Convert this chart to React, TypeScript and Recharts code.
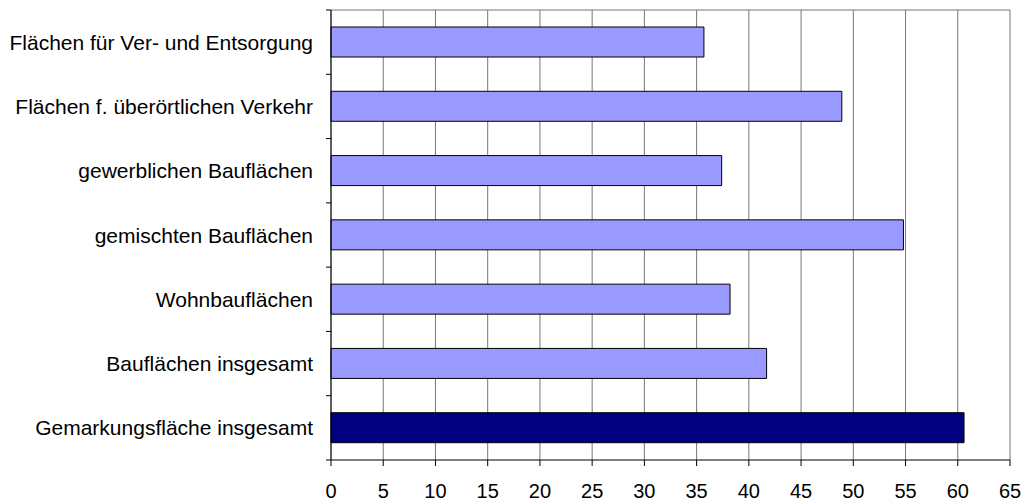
import React from "react";
import { BarChart, Bar, XAxis, YAxis, CartesianGrid, Cell } from "recharts";

const categories = [
  "Flächen für Ver- und Entsorgung",
  "Flächen f. überörtlichen Verkehr",
  "gewerblichen Bauflächen",
  "gemischten Bauflächen",
  "Wohnbauflächen",
  "Bauflächen insgesamt",
  "Gemarkungsfläche insgesamt",
];
const values = [35.7, 48.9, 37.4, 54.8, 38.2, 41.7, 60.6];
const barColors = ["#9999FF", "#9999FF", "#9999FF", "#9999FF", "#9999FF", "#9999FF", "#000080"];
const xTicks = [0, 5, 10, 15, 20, 25, 30, 35, 40, 45, 50, 55, 60, 65];

const data = categories.map((name, i) => ({ name, value: values[i] }));

const fam = "'Liberation Sans', Arial, sans-serif";
const xFont = { fontFamily: fam, fontSize: 20, fill: "#000" };
const Y_TICK_SIZE = 5;
const Y_TICK_MARGIN = 13;

const CategoryTick = (props: any) => {
  const { x, y, payload, index, visibleTicksCount } = props;
  const half = payload && payload.offset ? payload.offset : 0;
  const lx1 = x + Y_TICK_MARGIN;
  const lx2 = x + Y_TICK_MARGIN + Y_TICK_SIZE;
  const isLast = index === (visibleTicksCount ?? categories.length) - 1;
  return (
    <g>
      <line x1={lx1} x2={lx2} y1={y - half} y2={y - half} stroke="#000" />
      {isLast && <line x1={lx1} x2={lx2} y1={y + half} y2={y + half} stroke="#000" />}
      <text x={x} y={y} textAnchor="end" dominantBaseline="central" fontFamily={fam} fontSize={21} fill="#000">
        {payload.value}
      </text>
    </g>
  );
};

export default function App() {
  return (
    <div style={{ position: "absolute", left: 0, top: 0, fontFamily: fam }}>
      <BarChart
        width={1025}
        height={502}
        data={data}
        layout="vertical"
        margin={{ top: 10, right: 15, bottom: 2, left: 0 }}
        barCategoryGap={0}
      >
        <CartesianGrid
          stroke="#777"
          vertical={true}
          horizontal={true}
          horizontalCoordinatesGenerator={({ offset }: any) => [offset.top]}
        />
        <XAxis
          type="number"
          domain={[0, 65]}
          ticks={xTicks}
          interval={0}
          tick={xFont}
          tickSize={6}
          tickMargin={18}
          height={40}
          axisLine={{ stroke: "#000" }}
          tickLine={{ stroke: "#000" }}
        />
        <YAxis
          type="category"
          dataKey="name"
          width={331}
          tick={<CategoryTick />}
          tickLine={false}
          axisLine={{ stroke: "#000" }}
          tickSize={Y_TICK_SIZE}
          tickMargin={Y_TICK_MARGIN}
          interval={0}
        />
        <Bar dataKey="value" barSize={30} stroke="#000" strokeWidth={1} isAnimationActive={false}>
          {data.map((d, i) => (
            <Cell key={d.name} fill={barColors[i]} />
          ))}
        </Bar>
      </BarChart>
    </div>
  );
}
